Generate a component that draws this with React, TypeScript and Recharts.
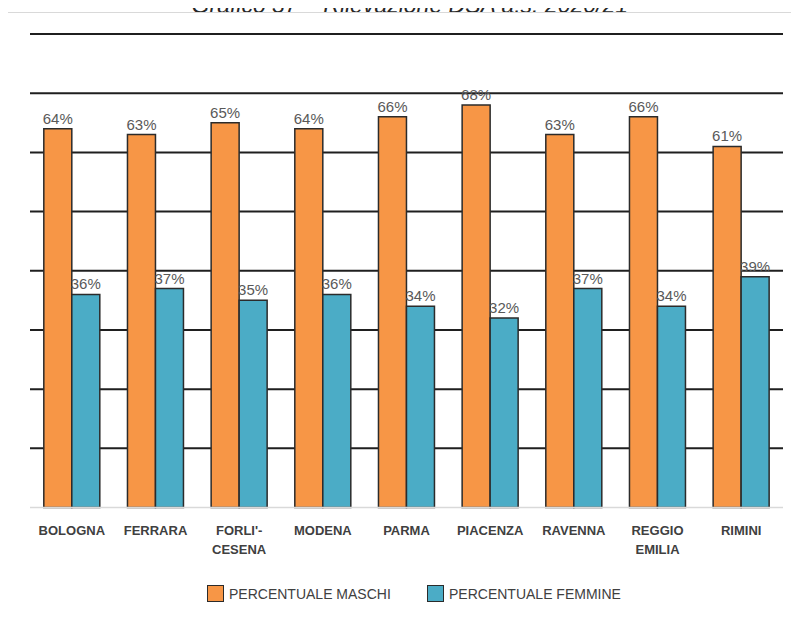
import { BarChart, Bar, XAxis, YAxis, CartesianGrid, LabelList } from "recharts";

const CATEGORIES = [
  "BOLOGNA",
  "FERRARA",
  "FORLI'-\nCESENA",
  "MODENA",
  "PARMA",
  "PIACENZA",
  "RAVENNA",
  "REGGIO\nEMILIA",
  "RIMINI",
];
const MASCHI = [64, 63, 65, 64, 66, 68, 63, 66, 61];
const FEMMINE = [36, 37, 35, 36, 34, 32, 37, 34, 39];
const GRID_TICKS = [10, 20, 30, 40, 50, 60, 70, 80];

const SERIES = [
  { key: "maschi", name: "PERCENTUALE MASCHI", color: "#F79646" },
  { key: "femmine", name: "PERCENTUALE FEMMINE", color: "#4BACC6" },
];

const data = CATEGORIES.map((c, i) => ({ name: c, maschi: MASCHI[i], femmine: FEMMINE[i] }));

const FONT = "'Liberation Sans', Arial, sans-serif";

function CategoryTick(props: any) {
  const { x, y, payload } = props;
  const lines = String(payload.value).split("\n");
  return (
    <text x={x} y={y + 19} textAnchor="middle" fill="#404040" fontSize={13} fontWeight="bold" fontFamily={FONT}>
      {lines.map((l, i) => (
        <tspan key={i} x={x} dy={i === 0 ? 0 : 19}>
          {l}
        </tspan>
      ))}
    </text>
  );
}

export default function App() {
  return (
    <div style={{ position: "relative", width: 799, height: 621, margin: -8, overflow: "hidden", background: "#fff" }}>
      <div
        style={{
          position: "absolute",
          top: -6,
          right: 171,
          fontFamily: FONT,
          fontStyle: "italic",
          fontSize: 23,
          lineHeight: "22px",
          color: "#262626",
          whiteSpace: "nowrap",
        }}
      >
        Grafico 37 – Rilevazione DSA a.s. 2020/21
      </div>
      <div
        style={{
          position: "absolute",
          left: 7,
          top: 12,
          width: 820,
          height: 640,
          border: "1px solid #d9d9d9",
        }}
      />
      <div style={{ position: "absolute", left: 0, top: 0 }}>
        <BarChart
          width={799}
          height={621}
          data={data}
          margin={{ top: 34, right: 16, left: 30, bottom: 83.5 }}
          barCategoryGap="16.5%"
          barGap={0}
        >
          <CartesianGrid vertical={false} horizontalValues={GRID_TICKS} stroke="#1f1f1f" strokeWidth={2} />
          <YAxis hide domain={[0, 80]} ticks={GRID_TICKS} />
          <XAxis
            dataKey="name"
            axisLine={{ stroke: "#d9d9d9", strokeWidth: 1.5 }}
            tickLine={false}
            interval={0}
            height={30}
            tick={<CategoryTick />}
          />
          {SERIES.map((s) => (
            <Bar
              key={s.key}
              dataKey={s.key}
              name={s.name}
              fill={s.color}
              stroke="#2b2b2b"
              strokeWidth={1.5}
              isAnimationActive={false}
            >
              <LabelList
                dataKey={s.key}
                position="top"
                offset={5}
                formatter={(v: any) => `${v}%`}
                style={{ fill: "#595959", fontSize: 15, fontFamily: FONT }}
              />
            </Bar>
          ))}
        </BarChart>
      </div>
      {SERIES.map((s, i) => (
        <div
          key={s.key}
          style={{
            position: "absolute",
            left: i === 0 ? 207 : 427,
            top: 585,
            display: "flex",
            alignItems: "center",
            fontFamily: FONT,
            fontSize: 14,
            color: "#404040",
            whiteSpace: "nowrap",
          }}
        >
          <span
            style={{
              display: "inline-block",
              width: 15,
              height: 15,
              background: s.color,
              border: "1px solid #2b2b2b",
              marginRight: 5,
            }}
          />
          {s.name}
        </div>
      ))}
    </div>
  );
}
